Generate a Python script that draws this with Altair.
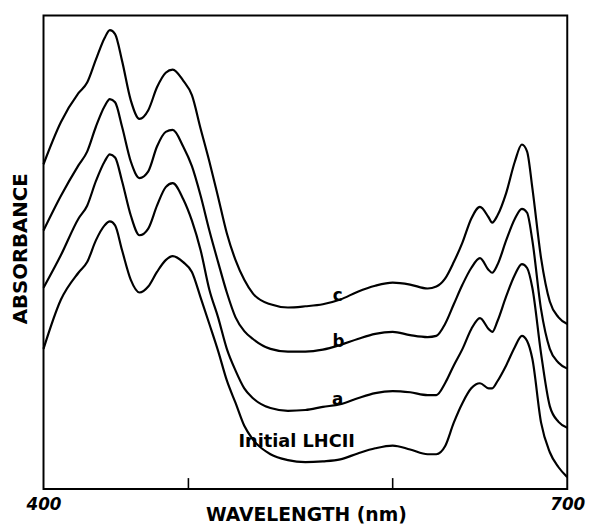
import altair as alt
import pandas as pd

# ---- data (absorbance in arbitrary units) ----
wavelength = [400, 410, 420, 425, 430, 435, 438, 441, 445, 450,
              455, 460, 465, 470, 474, 480, 485, 490, 495, 500,
              505, 510, 515, 520, 530, 540, 550, 560, 570, 580,
              590, 600, 610, 620, 625, 630, 635, 640, 645, 650,
              655, 657, 660, 665, 670, 674, 677, 680, 685, 690,
              695, 700]

abs_c = [0.823, 0.930, 1.003, 1.030, 1.088, 1.143, 1.163, 1.153, 1.085, 0.985,
         0.938, 0.960, 1.018, 1.055, 1.063, 1.035, 0.998, 0.913, 0.830, 0.740,
         0.648, 0.580, 0.530, 0.495, 0.468, 0.460, 0.463, 0.468, 0.480, 0.500,
         0.515, 0.523, 0.518, 0.508, 0.513, 0.533, 0.575, 0.625, 0.685, 0.715,
         0.688, 0.675, 0.693, 0.750, 0.830, 0.873, 0.855, 0.763, 0.585, 0.475,
         0.435, 0.418]

abs_b = [0.655, 0.743, 0.820, 0.855, 0.918, 0.970, 0.988, 0.980, 0.918, 0.830,
         0.788, 0.805, 0.868, 0.905, 0.910, 0.868, 0.818, 0.743, 0.655, 0.575,
         0.498, 0.435, 0.400, 0.380, 0.355, 0.348, 0.348, 0.353, 0.365, 0.380,
         0.393, 0.398, 0.390, 0.385, 0.388, 0.418, 0.468, 0.518, 0.560, 0.585,
         0.555, 0.548, 0.568, 0.630, 0.685, 0.710, 0.700, 0.630, 0.455, 0.355,
         0.320, 0.305]

abs_a = [0.510, 0.593, 0.685, 0.718, 0.780, 0.830, 0.848, 0.840, 0.780, 0.693,
         0.643, 0.660, 0.718, 0.765, 0.775, 0.735, 0.680, 0.605, 0.505, 0.435,
         0.355, 0.300, 0.255, 0.230, 0.205, 0.198, 0.200, 0.208, 0.215, 0.230,
         0.243, 0.248, 0.245, 0.238, 0.238, 0.268, 0.313, 0.355, 0.405, 0.433,
         0.405, 0.398, 0.425, 0.488, 0.543, 0.570, 0.560, 0.510, 0.343, 0.210,
         0.170, 0.155]

abs_initial = [0.355, 0.480, 0.548, 0.575, 0.630, 0.668, 0.678, 0.668, 0.605, 0.530,
               0.498, 0.513, 0.550, 0.580, 0.590, 0.575, 0.550, 0.485, 0.418, 0.350,
               0.275, 0.218, 0.160, 0.125, 0.088, 0.073, 0.068, 0.070, 0.075, 0.090,
               0.103, 0.110, 0.100, 0.088, 0.088, 0.108, 0.168, 0.218, 0.255, 0.268,
               0.255, 0.255, 0.273, 0.313, 0.360, 0.388, 0.375, 0.330, 0.168, 0.093,
               0.055, 0.030]

series_names = ["c", "b", "a", "initial"]
series_values = [abs_c, abs_b, abs_a, abs_initial]

# curve annotations
letter_labels = ["c", "b", "a"]
letter_nm = [568.5, 569.0, 568.5]
letter_abs = [0.488, 0.373, 0.225]
initial_label = ["Initial LHCII"]
initial_nm = [545.0]
initial_abs = [0.118]

# inner tick marks on the wavelength axis
inner_ticks_nm = [483, 600]
axis_label_values = [400, 700]

FONT = "DejaVu Sans"

rows = []
for name, vals in zip(series_names, series_values):
    for w, v in zip(wavelength, vals):
        rows.append({"wavelength": w, "absorbance": v, "series": name})
df = pd.DataFrame(rows)

x_scale = alt.Scale(domain=[400, 700], nice=False, zero=False)
y_scale = alt.Scale(domain=[0, 1.2], nice=False, zero=False)

lines = alt.Chart(df).mark_line(
    color="black", strokeWidth=2.2, interpolate="monotone"
).encode(
    x=alt.X("wavelength:Q", scale=x_scale,
            axis=alt.Axis(values=axis_label_values, ticks=False, tickSize=0,
                          domain=False, grid=False,
                          labelFont=FONT, labelFontSize=17, labelFontWeight="bold",
                          labelFontStyle="italic", labelColor="black",
                          labelPadding=21, labelBaseline="alphabetic",
                          labelFlush=False,
                          title="WAVELENGTH (nm)", titleFont=FONT, titleFontSize=19,
                          titleFontWeight="bold", titleColor="black",
                          titleX=266, titleY=32, titleAlign="center",
                          titleBaseline="alphabetic")),
    y=alt.Y("absorbance:Q", scale=y_scale,
            axis=alt.Axis(ticks=False, labels=False, domain=False, grid=False,
                          title="ABSORBANCE", titleFont=FONT, titleFontSize=20,
                          titleFontWeight="bold", titleColor="black",
                          titleAngle=270, titleX=-23, titleY=236,
                          titleAlign="center", titleBaseline="middle")),
    detail="series:N",
)

ticks_df = pd.DataFrame({"nm": inner_ticks_nm})
ticks = alt.Chart(ticks_df).mark_rule(color="black", strokeWidth=1.6).encode(
    x=alt.X("nm:Q", scale=x_scale),
    y=alt.value(480),
    y2=alt.value(469),
)

letters_df = pd.DataFrame({"label": letter_labels, "nm": letter_nm, "abs": letter_abs})
letters = alt.Chart(letters_df).mark_text(
    font=FONT, fontSize=17, fontWeight="bold", color="black",
    align="center", baseline="middle"
).encode(
    x=alt.X("nm:Q", scale=x_scale),
    y=alt.Y("abs:Q", scale=y_scale),
    text="label:N",
)

initial_df = pd.DataFrame({"label": initial_label, "nm": initial_nm, "abs": initial_abs})
initial_text = alt.Chart(initial_df).mark_text(
    font=FONT, fontSize=18, fontWeight="bold", color="black",
    align="center", baseline="middle"
).encode(
    x=alt.X("nm:Q", scale=x_scale),
    y=alt.Y("abs:Q", scale=y_scale),
    text="label:N",
)

chart = alt.layer(lines, ticks, letters, initial_text).properties(
    width=531, height=480,
    padding={"left": 36, "top": 4, "right": 19, "bottom": 37},
    autosize=alt.AutoSizeParams(type="none"),
    background="white",
).configure_view(stroke="black", strokeWidth=2)

chart.save("out.html", embed_options={"renderer": "svg", "actions": False})
